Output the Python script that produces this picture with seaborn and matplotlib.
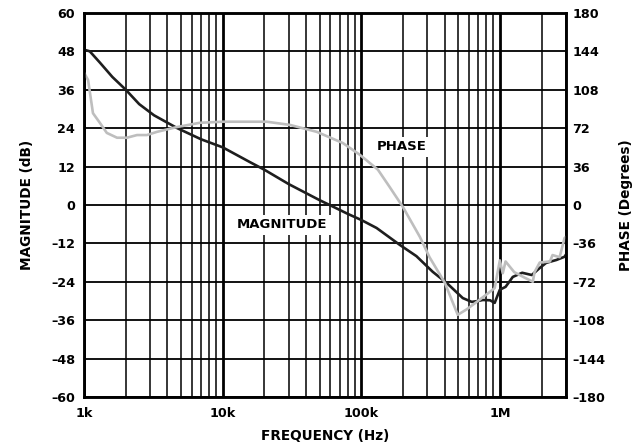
import numpy as np
import pandas as pd
import matplotlib
matplotlib.use('Agg')
import matplotlib.pyplot as plt
import seaborn as sns
from matplotlib.ticker import FixedLocator, FixedFormatter, LogLocator, NullFormatter

# magnitude curve (dB)
mag_freq = [1.0e3, 1.1e3, 1.3e3, 1.6e3, 2.0e3, 2.5e3, 3.2e3, 4.7e3, 7.0e3, 10e3,
            15.7e3, 20e3, 30e3, 50e3, 59e3, 80e3, 100e3, 129e3, 190e3, 250e3,
            328e3, 414e3, 540e3, 627e3, 700e3, 754e3, 850e3, 918e3, 1.0e6, 1.1e6,
            1.24e6, 1.45e6, 1.7e6, 1.94e6, 2.16e6, 2.56e6, 2.93e6, 3.0e6]
mag_db = [48.5, 48.0, 44.5, 40.0, 36.0, 31.5, 28.0, 24.0, 20.5, 18.0,
          13.4, 11.0, 6.5, 1.5, 0.0, -2.8, -4.7, -7.2, -12.5, -16.0,
          -20.9, -24.4, -29.1, -30.3, -30.0, -29.7, -29.8, -30.6, -26.5, -25.6,
          -22.5, -21.2, -21.9, -19.7, -18.1, -17.2, -16.2, -15.5]

# phase curve (degrees)
ph_freq = [1.0e3, 1.07e3, 1.16e3, 1.3e3, 1.46e3, 1.73e3, 2.04e3, 2.41e3, 2.84e3, 3.36e3,
           4.68e3, 6.85e3, 10e3, 20.8e3, 30.6e3, 47.8e3, 73.7e3, 97.7e3, 132e3, 160e3,
           200e3, 265e3, 311e3, 401e3, 497e3, 575e3, 680e3, 800e3, 918e3, 1.0e6,
           1.05e6, 1.1e6, 1.27e6, 1.5e6, 1.73e6, 1.78e6, 1.94e6, 2.3e6, 2.4e6, 2.7e6,
           2.93e6, 3.0e6]
ph_deg = [124, 117, 86, 77, 67.5, 63, 63, 65.5, 65.5, 68.5,
          73, 77, 78, 78, 75, 68.5, 58, 47, 33, 17,
          -2, -30, -49, -73, -103, -98, -91, -84, -78, -52,
          -64, -53, -63, -68, -72, -63, -54, -53, -47, -49,
          -31, -30]

mag_ticks = [-60, -48, -36, -24, -12, 0, 12, 24, 36, 48, 60]
phase_ticks = [-180, -144, -108, -72, -36, 0, 36, 72, 108, 144, 180]
freq_ticks = [1e3, 1e4, 1e5, 1e6]
freq_labels = ["1k", "10k", "100k", "1M"]


def dash(v):
    return f"–{abs(v)}" if v < 0 else str(v)


sns.set_style("white")
plt.rcParams['font.family'] = ['DejaVu Sans']
plt.rcParams['font.weight'] = 'bold'
plt.rcParams['font.size'] = 9.2
plt.rcParams['text.color'] = 'black'
plt.rcParams['axes.labelcolor'] = 'black'
plt.rcParams['xtick.color'] = 'black'
plt.rcParams['ytick.color'] = 'black'
plt.rcParams['axes.edgecolor'] = 'black'

fig = plt.figure(figsize=(6.39, 4.45), dpi=100)
ax = fig.add_axes([0.1315, 0.108, 0.7542, 0.863])

mag = pd.DataFrame({"freq": mag_freq, "db": mag_db})
ph = pd.DataFrame({"freq": ph_freq, "deg": ph_deg})

sns.lineplot(data=mag, x="freq", y="db", ax=ax, color="#1e1e1e", linewidth=1.9, zorder=4)
ax.set_xscale("log")

ax2 = ax.twinx()
sns.lineplot(data=ph, x="freq", y="deg", ax=ax2, color="#bebebe", linewidth=1.9)

ax.set_xlim(1e3, 3e6)
ax.set_ylim(-60, 60)
ax.xaxis.set_major_locator(FixedLocator(freq_ticks))
ax.xaxis.set_major_formatter(FixedFormatter(freq_labels))
ax.xaxis.set_minor_locator(LogLocator(base=10, subs=np.arange(2, 10)))
ax.xaxis.set_minor_formatter(NullFormatter())
ax.set_yticks(mag_ticks)
ax.set_yticklabels([dash(v) for v in mag_ticks], fontweight='bold')
ax.grid(which='major', axis='x', color='black', linewidth=2.0, zorder=0)
ax.grid(which='minor', axis='x', color='black', linewidth=1.1, zorder=0)
ax.grid(which='major', axis='y', color='black', linewidth=1.3, zorder=0)
ax.set_axisbelow(True)
ax.tick_params(which='both', length=0)
ax.tick_params(axis='y', pad=6.5)
ax.tick_params(axis='x', pad=7)
ax.set_xlabel("FREQUENCY (Hz)", fontweight='bold', fontsize=9.8, labelpad=7)
ax.set_ylabel("MAGNITUDE (dB)", fontweight='bold', fontsize=9.8, labelpad=12)
for s in ax.spines.values():
    s.set_linewidth(1.8)
    s.set_color('black')

ax2.set_ylim(-180, 180)
ax2.set_yticks(phase_ticks)
ax2.set_yticklabels([dash(v) for v in phase_ticks], fontweight='bold')
ax2.tick_params(which='both', length=0, pad=4.5)
ax2.set_ylabel("PHASE (Degrees)", fontweight='bold', fontsize=9.8, labelpad=10)
for s in ax2.spines.values():
    s.set_linewidth(1.8)
    s.set_color('black')

box = dict(facecolor='white', edgecolor='none', pad=2.5)
ax2.text(27e3, -18.75, "MAGNITUDE", ha='center', va='center', fontweight='bold',
         fontsize=9.5, bbox=box, zorder=6)
ax2.text(196e3, 54.5, "PHASE", ha='center', va='center', fontweight='bold',
         fontsize=9.5, bbox=box, zorder=6)

fig.savefig("out.png", dpi=100)
